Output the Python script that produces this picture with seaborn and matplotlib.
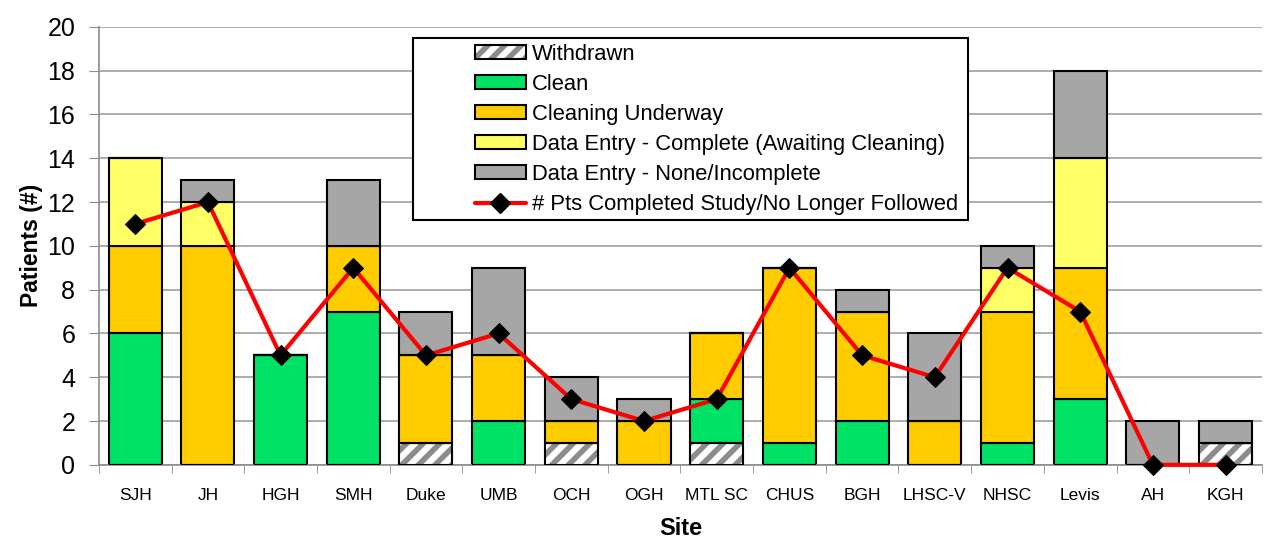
import matplotlib
matplotlib.use("Agg")
import matplotlib.pyplot as plt
from matplotlib.patches import Patch, Rectangle
from matplotlib.lines import Line2D
import seaborn as sns
import numpy as np

sites = ["SJH", "JH", "HGH", "SMH", "Duke", "UMB", "OCH", "OGH", "MTL SC",
         "CHUS", "BGH", "LHSC-V", "NHSC", "Levis", "AH", "KGH"]
withdrawn = [0, 0, 0, 0, 1, 0, 1, 0, 1, 0, 0, 0, 0, 0, 0, 1]
clean = [6, 0, 5, 7, 0, 2, 0, 0, 2, 1, 2, 0, 1, 3, 0, 0]
cleaning = [4, 10, 0, 3, 4, 3, 1, 2, 3, 8, 5, 2, 6, 6, 0, 0]
entry_complete = [4, 2, 0, 0, 0, 0, 0, 0, 0, 0, 0, 0, 2, 5, 0, 0]
entry_none = [0, 1, 0, 3, 2, 4, 2, 1, 0, 0, 1, 4, 1, 4, 2, 1]
completed = [11, 12, 5, 9, 5, 6, 3, 2, 3, 9, 5, 4, 9, 7, 0, 0]

sns.set_style("white")
plt.rcParams["font.family"] = ["Liberation Sans", "DejaVu Sans"]
plt.rcParams["hatch.linewidth"] = 4.0
plt.rcParams["text.color"] = "black"
plt.rcParams["axes.labelcolor"] = "black"
plt.rcParams["xtick.color"] = "black"
plt.rcParams["ytick.color"] = "black"

fig, ax = plt.subplots(figsize=(12.67, 5.38), dpi=100)
fig.subplots_adjust(left=0.078, right=0.996, bottom=0.136, top=0.95)

layers = [
    ("Clean", clean, "#00E266"),
    ("Cleaning Underway", cleaning, "#FFCC00"),
    ("Data Entry - Complete (Awaiting Cleaning)", entry_complete, "#FFFF66"),
    ("Data Entry - None/Incomplete", entry_none, "#A6A6A6"),
]

# withdrawn: gray hatch first, black outline on top
sns.barplot(x=sites, y=withdrawn, color="white", edgecolor="#8C8C8C",
            hatch="//", linewidth=0, width=0.73, saturation=1, ax=ax, zorder=2)
sns.barplot(x=sites, y=withdrawn, fill=False, edgecolor="black",
            linewidth=1.5, width=0.73, ax=ax, zorder=3)

bottom = np.array(withdrawn, dtype=float)
for name, vals, col in layers:
    sns.barplot(x=sites, y=vals, bottom=bottom, color=col, edgecolor="black",
                linewidth=1.5, width=0.73, saturation=1, ax=ax, zorder=2)
    bottom = bottom + np.array(vals)

sns.lineplot(x=np.arange(len(sites)), y=completed, color="#FF0000", lw=3,
             marker="D", markersize=10, markerfacecolor="black",
             markeredgecolor="black", ax=ax, zorder=5, clip_on=False)

ax.set_ylim(0, 20)
ax.set_xlim(-0.5, len(sites) - 0.5)
ax.set_yticks(range(0, 21, 2))
ax.tick_params(axis="y", labelsize=18, length=7, color="#8C8C8C", direction="out", left=True, pad=10)
ax.set_xticks(range(len(sites)))
ax.set_xticklabels(sites, fontsize=12.5)
ax.tick_params(axis="x", which="major", length=0, pad=17)
ax.set_xticks(np.arange(-0.5, len(sites), 1), minor=True)
ax.tick_params(axis="x", which="minor", length=6, color="#8C8C8C", direction="out", bottom=True)
ax.yaxis.grid(True, color="#A0A0A0", lw=1.2)
ax.set_axisbelow(True)
for s in ["top", "right"]:
    ax.spines[s].set_visible(False)
for s in ["left", "bottom"]:
    ax.spines[s].set_color("#8C8C8C")
    ax.spines[s].set_linewidth(1.2)

ax.set_ylabel("Patients (#)", fontsize=16.5, fontweight="bold", labelpad=3)
ax.set_xlabel("Site", fontsize=17, fontweight="bold", labelpad=10)

# legend box drawn separately (handles sit well inside it)
ax.add_patch(Rectangle((0.270, 0.559), 0.477, 0.416, transform=ax.transAxes,
                       facecolor="white", edgecolor="black", lw=1.5,
                       zorder=9, clip_on=False))
wd = (Patch(facecolor="white", edgecolor="#8C8C8C", hatch="//", lw=0),
      Patch(facecolor="none", edgecolor="black", lw=1.5))
handles = [wd]
labels = ["Withdrawn"]
for n, v, c in layers:
    handles.append(Patch(facecolor=c, edgecolor="black", lw=1.5))
    labels.append(n)
handles.append(Line2D([], [], color="#FF0000", lw=3, marker="D", markersize=10,
                      markerfacecolor="black", markeredgecolor="black"))
labels.append("# Pts Completed Study/No Longer Followed")
leg = ax.legend(handles, labels, loc="upper left", bbox_to_anchor=(0.323, 0.961),
                fontsize=15.8, frameon=False,
                handlelength=2.35, handleheight=0.6, labelspacing=0.41,
                borderpad=0, handletextpad=0.25, borderaxespad=0)
leg.set_zorder(10)

fig.savefig("out.png", dpi=100)
